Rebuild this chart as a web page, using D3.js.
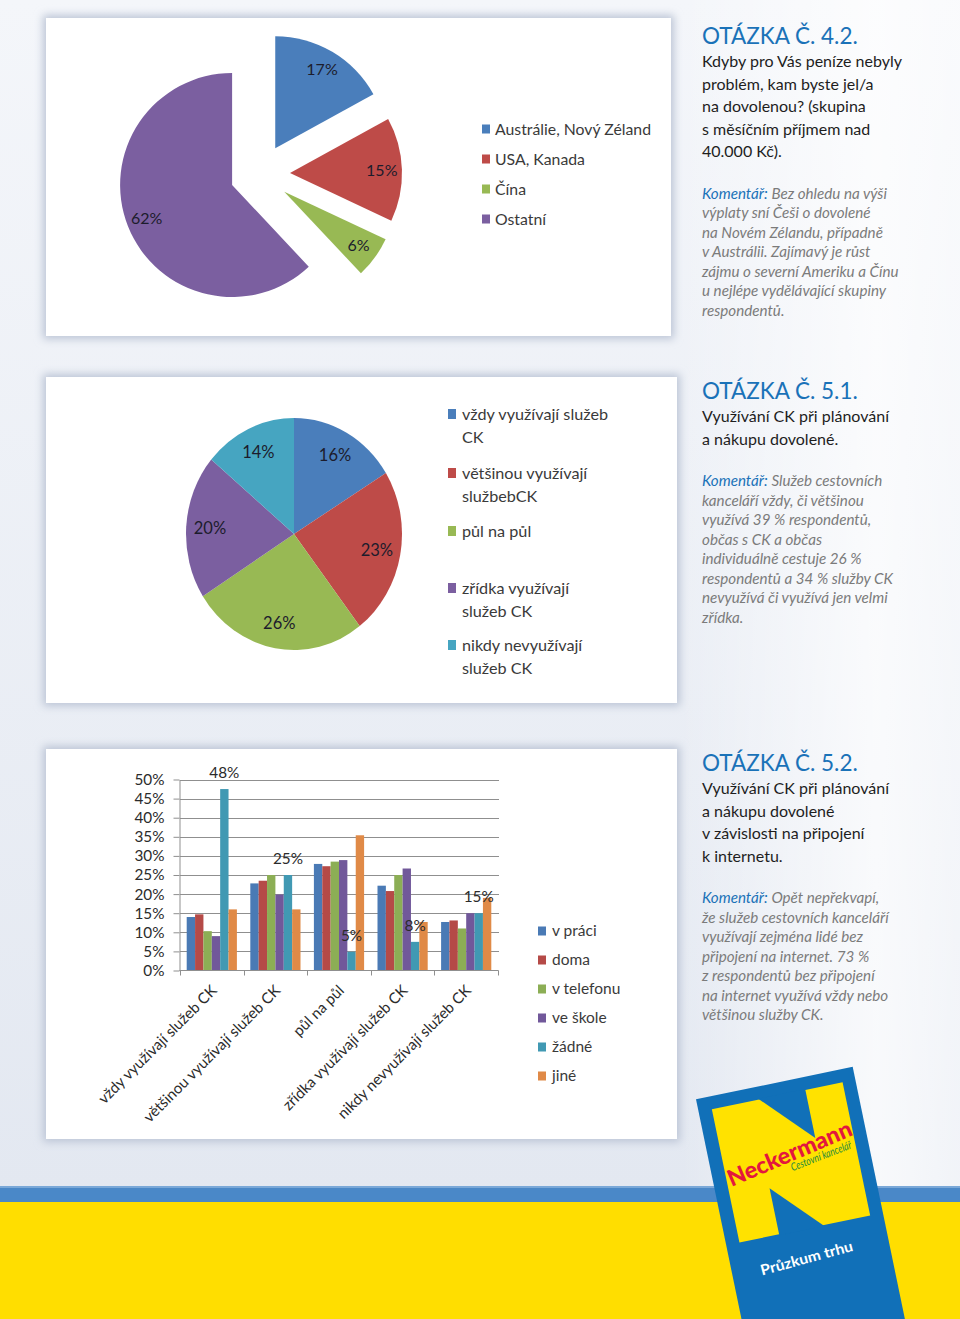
<!DOCTYPE html>
<html><head><meta charset="utf-8">
<script src="https://cdn.jsdelivr.net/npm/d3@7"></script>
<style>body{margin:0;background:#fff}svg{display:block}</style>
</head><body>
<svg id="c" width="960" height="1319"></svg>
<script>
// ---------- data ----------
const pie1Labels = ["Austrálie, Nový Zéland", "USA, Kanada", "Čína", "Ostatní"];
const pie1Values = [17, 15, 6, 62];

const pie2Labels = [["vždy využívají služeb", "CK"], ["většinou využívají", "službebCK"], ["půl na půl"], ["zřídka využívají", "služeb CK"], ["nikdy nevyužívají", "služeb CK"]];
const pie2Values = [16.2, 23.4, 26.4, 20.1, 13.9];

const barCategories = ["vždy využívají služeb CK", "většinou využívají služeb CK", "půl na půl", "zřídka využívají služeb CK", "nikdy nevyužívají služeb CK"];
const barSeries = ["v práci", "doma", "v telefonu", "ve škole", "žádné", "jiné"];
const vPraci    = [14.0, 22.8, 27.9, 22.2, 12.7];
const doma      = [14.7, 23.5, 27.3, 20.8, 13.1];
const vTelefonu = [10.3, 25.0, 28.5, 25.0, 11.0];
const veSkole   = [9.0, 19.9, 28.9, 26.7, 15.0];
const zadne     = [47.5, 25.0, 4.9, 7.5, 15.0];
const jine      = [16.0, 16.0, 35.4, 12.7, 19.0];
const yTicks = [0, 5, 10, 15, 20, 25, 30, 35, 40, 45, 50];
const labeledSeries = "žádné";

const textBlocks = [
  {title: "OTÁZKA Č. 4.2.", body: ["Kdyby pro Vás peníze nebyly", "problém, kam byste jel/a", "na dovolenou? (skupina", "s měsíčním příjmem nad", "40.000 Kč)."],
   comment: ["Bez ohledu na výši", "výplaty sní Češi o dovolené", "na Novém Zélandu, případně", "v Austrálii. Zajímavý je růst", "zájmu o severní Ameriku a Čínu", "u nejlépe vydělávající skupiny", "respondentů."]},
  {title: "OTÁZKA Č. 5.1.", body: ["Využívání CK při plánování", "a nákupu dovolené."],
   comment: ["Služeb cestovních", "kanceláří vždy, či většinou", "využívá 39 % respondentů,", "občas s CK a občas", "individuálně cestuje 26 %", "respondentů a 34 % služby CK", "nevyužívá či využívá jen velmi", "zřídka."]},
  {title: "OTÁZKA Č. 5.2.", body: ["Využívání CK při plánování", "a nákupu dovolené", "v závislosti na připojení", "k internetu."],
   comment: ["Opět nepřekvapí,", "že služeb cestovních kanceláří", "využívají zejména lidé bez", "připojení na internet. 73 %", "z respondentů bez připojení", "na internet využívá vždy nebo", "většinou služby CK."]}
];

// ---------- setup ----------
const svg = d3.select("#c");
const FONT = "Lato, 'Open Sans', sans-serif";
const defs = svg.append("defs");

const bg = defs.append("linearGradient").attr("id", "bg").attr("x1", 0).attr("y1", 0).attr("x2", 0).attr("y2", 1);
bg.append("stop").attr("offset", "0").attr("stop-color", "#f4f6fa");
bg.append("stop").attr("offset", "1").attr("stop-color", "#e3e8f1");
const bgR = defs.append("linearGradient").attr("id", "bgR").attr("x1", 0).attr("y1", 0).attr("x2", 1).attr("y2", 0);
bgR.append("stop").attr("offset", "0").attr("stop-color", "#ffffff").attr("stop-opacity", 0);
bgR.append("stop").attr("offset", "0.7").attr("stop-color", "#ffffff").attr("stop-opacity", 0.75);
bgR.append("stop").attr("offset", "1").attr("stop-color", "#ffffff").attr("stop-opacity", 0.5);

const blur = defs.append("filter").attr("id", "sh").attr("x", "-10%").attr("y", "-10%").attr("width", "120%").attr("height", "120%");
blur.append("feGaussianBlur").attr("stdDeviation", 4);

svg.append("rect").attr("width", 960).attr("height", 1190).attr("fill", "url(#bg)");
svg.append("rect").attr("x", 680).attr("width", 280).attr("height", 1190).attr("fill", "url(#bgR)");
svg.append("rect").attr("y", 1186).attr("width", 960).attr("height", 16).attr("fill", "#4a88c8");
svg.append("rect").attr("y", 1186).attr("width", 960).attr("height", 2).attr("fill", "#7aa8d8");
svg.append("rect").attr("y", 1202).attr("width", 960).attr("height", 117).attr("fill", "#ffde00");

const cards = [[46, 18, 625, 318], [46, 377, 631, 326], [46, 749, 631, 390]];
cards.forEach(([x, y, w, h]) => {
  svg.append("rect").attr("x", x - 3).attr("y", y - 3).attr("width", w + 6).attr("height", h + 6)
    .attr("fill", "#bcc5d6").attr("filter", "url(#sh)");
  svg.append("rect").attr("x", x).attr("y", y).attr("width", w).attr("height", h).attr("fill", "#ffffff");
});

const pieColors = ["#4a7ebb", "#be4b48", "#98b954", "#7b5fa0"];
const pie2Colors = ["#4a7ebb", "#be4b48", "#98b954", "#7b5fa0", "#46a5c1"];
const barColors = ["#4a7ab5", "#b54a47", "#8cae55", "#71589a", "#4199b3", "#e08a47"];
const labelColor = "#1c1c2c";

// ---------- pie 1 (exploded) ----------
{
  const cx = 260, cy = 174, r = 112, explode = 30;
  const pie = d3.pie().sort(null)(pie1Values);
  const arc = d3.arc().innerRadius(0).outerRadius(r);
  const lab = d3.arc().innerRadius(r * 0.82).outerRadius(r * 0.82);
  const g = svg.append("g").attr("transform", `translate(${cx},${cy})`);
  pie.forEach((d, i) => {
    const m = (d.startAngle + d.endAngle) / 2;
    const dx = explode * Math.sin(m), dy = -explode * Math.cos(m);
    const sg = g.append("g").attr("transform", `translate(${dx},${dy})`);
    sg.append("path").attr("d", arc(d)).attr("fill", pieColors[i]);
    const c = lab.centroid(d);
    sg.append("text").attr("x", c[0]).attr("y", c[1]).attr("dy", "0.35em").attr("text-anchor", "middle")
      .attr("font-family", FONT).attr("font-size", 16).attr("fill", labelColor).text(Math.round(d.data) + "%");
  });
  const lg = svg.append("g").attr("font-family", FONT).attr("font-size", 15.8).attr("fill", "#3a3a3a");
  pie1Labels.forEach((t, i) => {
    const y = 129 + i * 30;
    lg.append("rect").attr("x", 482).attr("y", y - 4.5).attr("width", 8).attr("height", 9).attr("fill", pieColors[i]);
    lg.append("text").attr("x", 495).attr("y", y).attr("dy", "0.35em").text(t);
  });
}

// ---------- pie 2 ----------
{
  const cx = 294, cy = 534, r = 108, sy = 116 / 108;
  const pie = d3.pie().sort(null)(pie2Values);
  const arc = d3.arc().innerRadius(0).outerRadius(r);
  const lab = d3.arc().innerRadius(r * 0.78).outerRadius(r * 0.78);
  const g = svg.append("g").attr("transform", `translate(${cx},${cy})`);
  const gs = g.append("g").attr("transform", `scale(1,${sy})`);
  pie.forEach((d, i) => {
    gs.append("path").attr("d", arc(d)).attr("fill", pie2Colors[i]);
    const c = lab.centroid(d);
    g.append("text").attr("x", c[0]).attr("y", c[1] * sy).attr("dy", "0.35em").attr("text-anchor", "middle")
      .attr("font-family", FONT).attr("font-size", 16.5).attr("fill", labelColor).text(Math.round(d.data) + "%");
  });
  const lg = svg.append("g").attr("font-family", FONT).attr("font-size", 16.2).attr("fill", "#3a3a3a");
  const starts = [414, 473, 531, 588, 645];
  pie2Labels.forEach((lines, i) => {
    const y = starts[i];
    lg.append("rect").attr("x", 448).attr("y", y - 5).attr("width", 8).attr("height", 10).attr("fill", pie2Colors[i]);
    lines.forEach((t, j) => lg.append("text").attr("x", 462).attr("y", y + j * 23).attr("dy", "0.35em").text(t));
  });
}

// ---------- bar chart ----------
{
  const series = [vPraci, doma, vTelefonu, veSkole, zadne, jine];
  const x0 = d3.scaleBand().domain(barCategories).range([180, 498]).padding(0);
  const pad = 6.7;
  const x1 = d3.scaleBand().domain(barSeries).range([pad, x0.bandwidth() - pad]);
  const y = d3.scaleLinear().domain([0, 50]).range([970.5, 779.5]);
  const g = svg.append("g");

  g.append("g").selectAll("line").data(yTicks.slice(1)).join("line")
    .attr("x1", 180).attr("x2", 499).attr("y1", d => Math.round(y(d)) + 0.5).attr("y2", d => Math.round(y(d)) + 0.5)
    .attr("stroke", "#8f8f8f").attr("stroke-width", 1);

  barCategories.forEach((cat, ci) => {
    barSeries.forEach((s, si) => {
      const v = series[si][ci];
      g.append("rect").attr("x", x0(cat) + x1(s)).attr("y", y(v)).attr("width", x1.bandwidth())
        .attr("height", y(0) - y(v)).attr("fill", barColors[si]);
    });
  });

  const ya = g.append("g").attr("transform", "translate(179.5,0)")
    .call(d3.axisLeft(y).tickValues(yTicks).tickFormat(d => d + "%").tickSizeInner(6).tickSizeOuter(0).tickPadding(9));
  ya.select(".domain").attr("stroke", "#8f8f8f");
  ya.selectAll(".tick line").attr("stroke", "#8f8f8f");
  ya.selectAll("text").attr("font-family", FONT).attr("font-size", 15.3).attr("fill", "#2b2b2b");

  const xa = g.append("g");
  xa.append("line").attr("x1", 179.5).attr("x2", 498.5).attr("y1", y(0)).attr("y2", y(0)).attr("stroke", "#8f8f8f");
  const bounds = barCategories.map(c => x0(c)).concat([x0.range()[1]]);
  xa.selectAll("line.t").data(bounds).join("line").attr("class", "t")
    .attr("x1", d => Math.round(d) + 0.5).attr("x2", d => Math.round(d) + 0.5).attr("y1", y(0)).attr("y2", y(0) + 5).attr("stroke", "#8f8f8f");
  xa.selectAll("text").data(barCategories).join("text")
    .attr("transform", d => `translate(${x0(d) + x0.bandwidth() / 2 + 6},${y(0) + 21}) rotate(-45)`)
    .attr("text-anchor", "end").attr("font-family", FONT).attr("font-size", 15.1).attr("fill", "#2b2b2b").text(d => d);

  const si = barSeries.indexOf(labeledSeries);
  barCategories.forEach((cat, ci) => {
    const v = series[si][ci];
    g.append("text").attr("x", x0(cat) + x1(labeledSeries) + x1.bandwidth() / 2).attr("y", y(v) - 11)
      .attr("text-anchor", "middle").attr("font-family", FONT).attr("font-size", 15.3).attr("fill", "#2b2b2b")
      .text(Math.round(v) + "%");
  });

  const lg = svg.append("g").attr("font-family", FONT).attr("font-size", 15.5).attr("fill", "#3a3a3a");
  barSeries.forEach((s, i) => {
    const yy = 931 + i * 29;
    lg.append("rect").attr("x", 538).attr("y", yy - 4.5).attr("width", 8).attr("height", 9).attr("fill", barColors[i]);
    lg.append("text").attr("x", 552).attr("y", yy).attr("dy", "0.35em").text(s);
  });
}

// ---------- text blocks ----------
{
  const tops = [44, 399, 771];
  const blue = "#1a72b8";
  textBlocks.forEach((b, i) => {
    const x = 702;
    const yb = tops[i];
    const g = svg.append("g").attr("font-family", FONT);
    g.append("text").attr("x", x).attr("y", yb).attr("font-size", 22.5).attr("fill", blue).attr("font-weight", 400).text(b.title);
    b.body.forEach((t, j) => g.append("text").attr("x", x).attr("y", yb + 23 + j * 22.6).attr("font-size", 16).attr("fill", "#1e1e1e").text(t));
    const cy0 = yb + 23 + (b.body.length - 1) * 22.6 + 41.5;
    b.comment.forEach((t, j) => {
      const tx = g.append("text").attr("x", x).attr("y", cy0 + j * 19.5).attr("font-size", 15.2).attr("font-style", "italic").attr("fill", "#7b7b7b");
      if (j === 0) { tx.append("tspan").attr("fill", blue).text("Komentář: "); }
      tx.append("tspan").text(t);
    });
  });
}

// ---------- logo ----------
{
  const blueL = "#1170b8", yel = "#ffe200";
  const g = svg.append("g").attr("transform", "translate(696,1099.3) rotate(-11.7)");
  g.append("rect").attr("x", 0).attr("y", 0).attr("width", 160).attr("height", 260).attr("fill", blueL);
  g.append("rect").attr("x", 13.5).attr("y", 13).attr("width", 133.5).attr("height", 136).attr("fill", yel);
  g.append("path").attr("d", "M61,12 L109,12 L109,62 Z").attr("fill", blueL);
  g.append("path").attr("d", "M54,102 L54,150 L100,150 Z").attr("fill", blueL);
  g.append("text").attr("transform", "translate(17,93) rotate(-11.3)").attr("font-family", FONT).attr("font-weight", 900)
    .attr("font-size", 23).attr("fill", "#e3173e").attr("textLength", 133).attr("lengthAdjust", "spacingAndGlyphs").text("Neckermann");
  g.append("text").attr("transform", "translate(80,90) rotate(-9.6)").attr("font-family", FONT).attr("font-style", "italic")
    .attr("font-size", 11).attr("fill", "#1f8a3c").attr("textLength", 64).attr("lengthAdjust", "spacingAndGlyphs").text("Cestovní kancelář");
  g.append("text").attr("transform", "translate(29,186) rotate(-3.5)").attr("font-family", FONT).attr("font-weight", 700)
    .attr("font-size", 14.5).attr("fill", "#ffffff").attr("textLength", 95).attr("lengthAdjust", "spacingAndGlyphs").text("Průzkum trhu");
}
</script>
</body></html>
